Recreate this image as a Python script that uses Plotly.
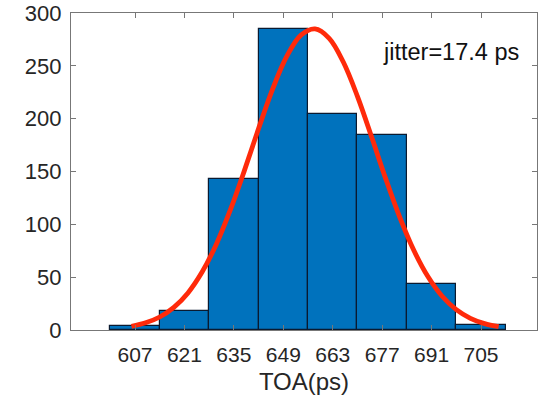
import plotly.graph_objects as go

# Histogram data (bin centers in ps, counts)
bin_centers = [607, 621, 635, 649, 663, 677, 691, 705]
counts = [4, 18, 143, 285, 204, 185, 44, 5]
bin_width = 14

# Gaussian fit curve
fit_x = [606, 610, 614, 618, 622, 626, 630, 634, 638, 642, 646, 650, 654, 658,
         662, 666, 670, 674, 678, 682, 686, 690, 694, 698, 702, 706, 710]
fit_y = [3.5, 6.8, 12.3, 21.4, 35.1, 54.8, 81.0, 113.6, 151.1, 190.7, 228.2, 259.1,
         279.0, 284.9, 276.0, 253.6, 221.1, 182.8, 143.3, 106.6, 75.2, 50.3, 31.9,
         19.2, 11.0, 6.0, 3.1]

x_ticks = [607, 621, 635, 649, 663, 677, 691, 705]
y_ticks = [0, 50, 100, 150, 200, 250, 300]
annotation_text = "jitter=17.4 ps"
x_title = "TOA(ps)"

FONT = "Liberation Sans, Arial, sans-serif"

fig = go.Figure()
fig.add_trace(go.Bar(
    x=bin_centers, y=counts, width=[bin_width] * len(bin_centers),
    marker=dict(color="#0072BD", line=dict(color="#0a1a30", width=1.2)),
    showlegend=False,
))
fig.add_trace(go.Scatter(
    x=fit_x, y=fit_y, mode="lines",
    line=dict(color="#FF2A0A", width=4.8, shape="spline"),
    showlegend=False,
))

fig.add_annotation(
    x=676.7, y=263.5, xref="x", yref="y", text=annotation_text,
    showarrow=False, xanchor="left", yanchor="middle",
    font=dict(family=FONT, size=23.5, color="#111111"),
)

axis_common = dict(
    showline=True, linecolor="#777777", linewidth=1.2, mirror="ticks",
    ticks="inside", ticklen=5, tickcolor="#777777", tickwidth=1,
    showgrid=False, zeroline=False, automargin=False,
    ticklabeloverflow="allow",
)

fig.update_layout(
    width=538, height=399,
    margin=dict(l=71, r=1, t=13, b=69, autoexpand=False),
    paper_bgcolor="white", plot_bgcolor="white",
    bargap=0,
    xaxis=dict(
        range=[588.87, 720.86], tickvals=x_ticks, ticktext=[str(v) for v in x_ticks],
        ticklabelstandoff=6,
        tickfont=dict(family=FONT, size=21, color="#262626"),
        title=dict(text=x_title, standoff=7,
                   font=dict(family=FONT, size=24, color="#262626")),
        **axis_common,
    ),
    yaxis=dict(
        range=[0, 300], tickvals=y_ticks, ticktext=[str(v) for v in y_ticks],
        ticklabelstandoff=4,
        tickfont=dict(family=FONT, size=22, color="#262626"),
        **axis_common,
    ),
)

fig.write_html(
    "out.html",
    config={"displayModeBar": False},
    post_script="document.body.style.margin='0px';document.body.style.overflow='hidden';",
)
